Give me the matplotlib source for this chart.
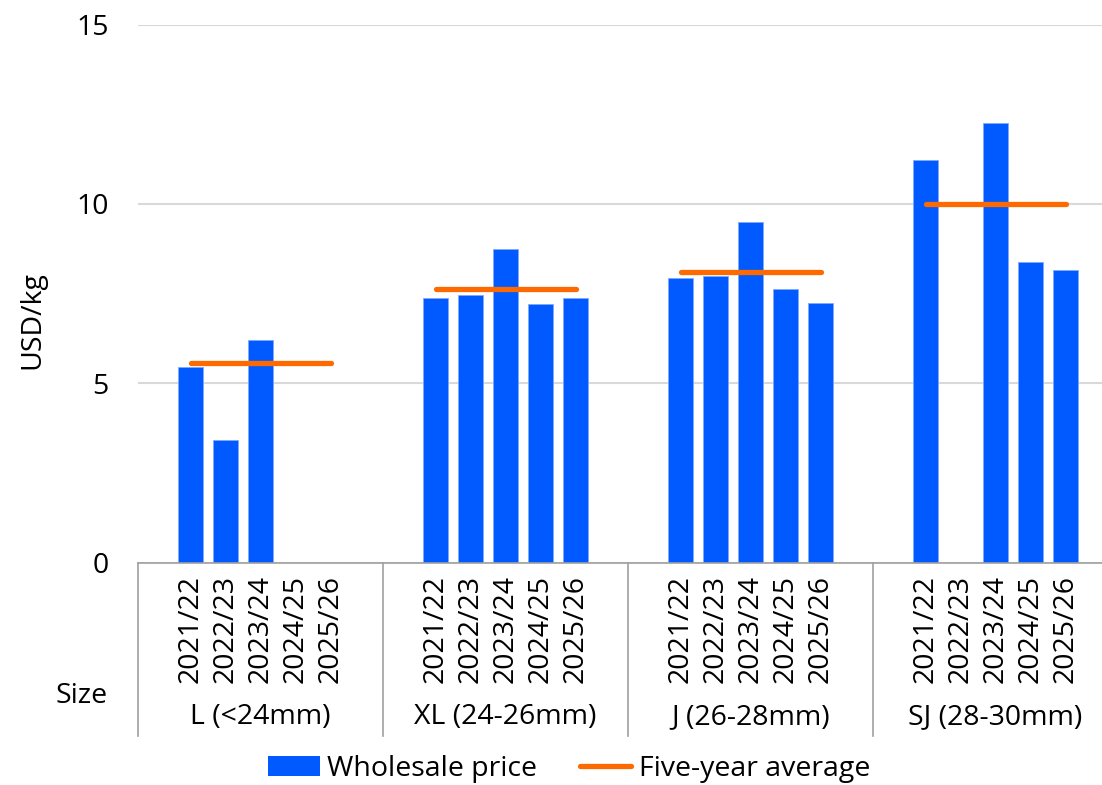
import numpy as np
import matplotlib.pyplot as plt
from matplotlib.patches import Patch
from matplotlib.lines import Line2D
import matplotlib.transforms as mtransforms

plt.rcParams['font.family'] = ['Open Sans', 'DejaVu Sans']

# Size classes and seasons
sizes = ['L (<24mm)', 'XL (24-26mm)', 'J (26-28mm)', 'SJ (28-30mm)']
seasons = ['2021/22', '2022/23', '2023/24', '2024/25', '2025/26']

# Wholesale price, USD/kg (nan = no data)
price_L = [5.46, 3.41, 6.20, np.nan, np.nan]
price_XL = [7.37, 7.46, 8.74, 7.21, 7.37]
price_J = [7.93, 8.00, 9.50, 7.62, 7.24]
price_SJ = [11.21, np.nan, 12.24, 8.39, 8.15]

# Five-year average per size class
five_year_avg = [5.56, 7.63, 8.10, 10.00]

prices = [price_L, price_XL, price_J, price_SJ]

blue = '#005AFF'
orange = '#FF6A00'
fs = 20.5

fig = plt.figure(figsize=(11.02, 7.85), dpi=100)
ax = fig.add_axes([138 / 1102, (785 - 562.5) / 785, 980 / 1102, 538 / 785])

slot = 7  # each size class spans 7 slots, bars sit in the middle five
xpos_all = []
labels_all = []
for g, vals in enumerate(prices):
    xs = g * slot + 1.5 + np.arange(len(seasons))
    ax.bar(xs, vals, width=0.714, color=blue, edgecolor='#7FA8FF', linewidth=0.6, zorder=2)
    ax.plot([xs[0], xs[-1]], [five_year_avg[g]] * 2, color=orange, lw=3.8,
            solid_capstyle='round', zorder=3)
    xpos_all.extend(xs)
    labels_all.extend(seasons)

ax.set_xlim(0, slot * len(sizes))
ax.set_ylim(0, 15)
ax.set_yticks([0, 5, 10, 15])
ax.tick_params(axis='y', length=0, pad=21, labelsize=fs)
ax.set_xticks(xpos_all, labels_all, rotation=90)
ax.tick_params(axis='x', length=0, pad=9, labelsize=fs)
ax.grid(axis='y', color='#D9D9D9', lw=1.5, zorder=0)
ax.set_axisbelow(True)
for s in ['left', 'right', 'top']:
    ax.spines[s].set_visible(False)
ax.spines['bottom'].set_color('#A0A0A0')
ax.spines['bottom'].set_linewidth(1.2)

ax.set_ylabel('USD/kg', fontsize=fs)
ax.yaxis.set_label_coords(-0.093, 0.45)

# group separators and size labels under the season ticks
trans = mtransforms.blended_transform_factory(ax.transData, ax.transAxes)
for g in range(len(sizes) + 1):
    ax.plot([g * slot, g * slot], [0, -0.322], transform=trans, color='#A0A0A0',
            lw=1.2, clip_on=False)
for g, name in enumerate(sizes):
    ax.text(g * slot + slot / 2, -0.287, name, transform=trans, ha='center',
            va='center', fontsize=fs)
fig.text(108 / 1102, 1 - 696 / 785, 'Size', ha='right', va='center', fontsize=fs)

handles = [Patch(facecolor=blue, edgecolor='none'),
           Line2D([0], [0], color=orange, lw=3.8, solid_capstyle='round')]
fig.legend(handles, ['Wholesale price', 'Five-year average'], loc='upper left',
           bbox_to_anchor=(268 / 1102, 1 - 755 / 785), ncol=2, frameon=False,
           fontsize=fs, borderpad=0, borderaxespad=0, handlelength=1.82,
           handleheight=0.65, handletextpad=0.25, columnspacing=1.5)

fig.savefig('out.png', dpi=100)
